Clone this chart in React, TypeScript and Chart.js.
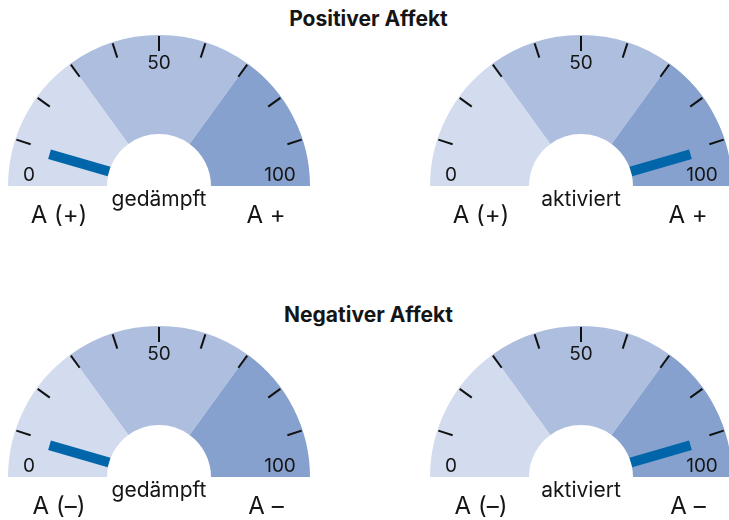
import React, { useEffect, useRef } from "react";
import { Chart, registerables } from "chart.js";

Chart.register(...registerables);

// ---- data ----
const SECTION_TITLES = ["Positiver Affekt", "Negativer Affekt"];
const SEGMENT_NAMES = ["niedrig", "mittel", "hoch"];
const SEGMENT_SIZES = [30, 40, 30];
const SEGMENT_COLORS = ["#d3dcee", "#aebedf", "#86a1cd"];
const TICK_VALUES = [10, 20, 30, 40, 50, 60, 70, 80, 90];
const SCALE_LABELS = ["0", "50", "100"];
const CAPTIONS = ["gedämpft", "aktiviert"];
const NEEDLE_POSITIVE = [9, 91];
const NEEDLE_NEGATIVE = [9, 91];
const END_LABELS_POSITIVE = ["A (+)", "A +"];
const END_LABELS_NEGATIVE = ["A (–)", "A –"];

const NEEDLE_COLOR = "#0066a9";
const TEXT_COLOR = "#151515";
const FONT = "Inter, 'Noto Sans', sans-serif";

type GaugeOpts = {
  value: number;
  caption: string;
  leftLabel: string;
  rightLabel: string;
};

const gaugeDecor = {
  id: "gaugeDecor",
  afterDatasetsDraw(chart: any, _args: any, opts: GaugeOpts) {
    const meta = chart.getDatasetMeta(0);
    const arc = meta.data[0];
    if (!arc) return;
    const { x: cx, y: cy, outerRadius: R, innerRadius: r0 } = arc.getProps(
      ["x", "y", "outerRadius", "innerRadius"],
      true
    );
    const ctx: CanvasRenderingContext2D = chart.ctx;
    ctx.save();
    // ticks
    ctx.strokeStyle = "#111";
    ctx.lineWidth = 2;
    ctx.lineCap = "butt";
    for (const t of TICK_VALUES) {
      const th = Math.PI * (1 + t / 100);
      const a = R - 16;
      const b = R - 1;
      ctx.beginPath();
      ctx.moveTo(cx + a * Math.cos(th), cy + a * Math.sin(th));
      ctx.lineTo(cx + b * Math.cos(th), cy + b * Math.sin(th));
      ctx.stroke();
    }
    // needle
    const th = Math.PI * (1 + opts.value / 100);
    ctx.save();
    ctx.translate(cx, cy);
    ctx.rotate(th);
    ctx.fillStyle = NEEDLE_COLOR;
    const tip = R * 0.755;
    ctx.fillRect(r0, -5, tip - r0, 10);
    ctx.restore();
    // scale labels
    ctx.fillStyle = TEXT_COLOR;
    ctx.textAlign = "center";
    ctx.textBaseline = "alphabetic";
    ctx.font = `19px ${FONT}`;
    ctx.fillText(SCALE_LABELS[0], cx - 130, cy - 5);
    ctx.fillText(SCALE_LABELS[1], cx, cy - 117);
    ctx.fillText(SCALE_LABELS[2], cx + 121, cy - 5);
    // caption
    ctx.font = `21px ${FONT}`;
    ctx.fillText(opts.caption, cx, cy + 20);
    // end labels
    ctx.font = `24px ${FONT}`;
    ctx.fillText(opts.leftLabel, cx - 100, cy + 37);
    ctx.fillText(opts.rightLabel, cx + 107, cy + 37);
    ctx.restore();
  },
};

const R = 151;
const W = 364;
const H = 250;
const CY_OFF = 186;

function Gauge(props: {
  cx: number;
  cy: number;
  value: number;
  caption: string;
  leftLabel: string;
  rightLabel: string;
}) {
  const ref = useRef<HTMLCanvasElement>(null);
  useEffect(() => {
    if (!ref.current) return;
    const chart = new Chart(ref.current, {
      type: "doughnut",
      data: {
        labels: SEGMENT_NAMES,
        datasets: [
          {
            data: SEGMENT_SIZES,
            backgroundColor: SEGMENT_COLORS,
            borderWidth: 0,
            hoverBorderWidth: 0,
            hoverOffset: 0,
            offset: 0,
          } as any,
        ],
      },
      options: {
        responsive: false,
        animation: false,
        devicePixelRatio: 1,
        rotation: -90,
        circumference: 180,
        cutout: `${(52 / 151) * 100}%`,
        layout: {
          padding: {
            left: W / 2 - R,
            right: W / 2 - R,
            top: CY_OFF - R,
            bottom: H - CY_OFF,
          },
        },
        events: [],
        plugins: {
          legend: { display: false },
          tooltip: { enabled: false },
          gaugeDecor: {
            value: props.value,
            caption: props.caption,
            leftLabel: props.leftLabel,
            rightLabel: props.rightLabel,
          },
        } as any,
      },
      plugins: [gaugeDecor],
    });
    return () => chart.destroy();
  }, []);
  return (
    <canvas
      ref={ref}
      width={W}
      height={H}
      style={{
        position: "absolute",
        left: props.cx - W / 2,
        top: props.cy - CY_OFF,
        width: W,
        height: H,
        display: "block",
      }}
    />
  );
}

const titleStyle = (top: number): React.CSSProperties => ({
  position: "absolute",
  left: 4,
  top,
  width: 729,
  textAlign: "center",
  fontFamily: FONT,
  fontWeight: 700,
  fontSize: 21,
  lineHeight: "21px",
  color: TEXT_COLOR,
  whiteSpace: "nowrap",
});

export default function App() {
  return (
    <div
      style={{
        position: "absolute",
        left: 0,
        top: 0,
        width: 729,
        height: 520,
        overflow: "hidden",
        background: "#fff",
      }}
    >
      <div style={titleStyle(8)}>{SECTION_TITLES[0]}</div>
      <div style={titleStyle(304)}>{SECTION_TITLES[1]}</div>
      <Gauge cx={159} cy={186} value={NEEDLE_POSITIVE[0]} caption={CAPTIONS[0]} leftLabel={END_LABELS_POSITIVE[0]} rightLabel={END_LABELS_POSITIVE[1]} />
      <Gauge cx={581} cy={186} value={NEEDLE_POSITIVE[1]} caption={CAPTIONS[1]} leftLabel={END_LABELS_POSITIVE[0]} rightLabel={END_LABELS_POSITIVE[1]} />
      <Gauge cx={159} cy={477} value={NEEDLE_NEGATIVE[0]} caption={CAPTIONS[0]} leftLabel={END_LABELS_NEGATIVE[0]} rightLabel={END_LABELS_NEGATIVE[1]} />
      <Gauge cx={581} cy={477} value={NEEDLE_NEGATIVE[1]} caption={CAPTIONS[1]} leftLabel={END_LABELS_NEGATIVE[0]} rightLabel={END_LABELS_NEGATIVE[1]} />
    </div>
  );
}
